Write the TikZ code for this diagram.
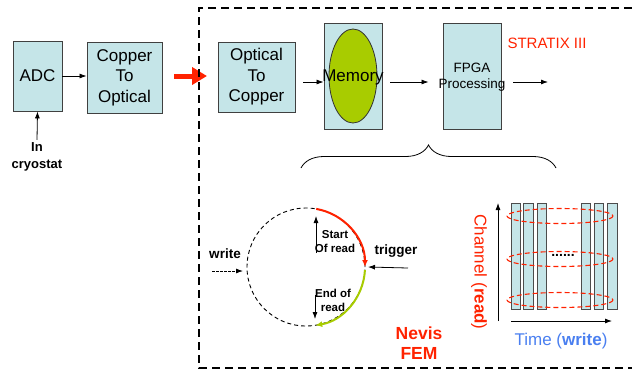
\documentclass[tikz,border=0pt]{standalone}
\usepackage{fontspec}
\setmainfont{Liberation Sans}
\usepackage{xcolor}
\usetikzlibrary{arrows.meta,positioning,calc,decorations.pathreplacing}
\definecolor{boxcyan}{HTML}{C5E5E8}
\definecolor{memgreen}{HTML}{A8CC00}
\definecolor{femred}{HTML}{FF2200}
\definecolor{timeblue}{HTML}{4A7FF0}

\begin{document}
\begin{tikzpicture}[x=1pt, y=-1pt,
  blk/.style={draw=black!75, fill=boxcyan, line width=0.9pt, align=center, inner sep=0pt, font=\fontsize{17}{20.5}\selectfont},
  arr/.style={-{Latex[length=7pt,width=5pt]}, line width=0.8pt},
  lbl/.style={font=\fontsize{11.5}{14}\selectfont\bfseries, align=center, inner sep=0pt}]
\useasboundingbox (0,0) rectangle (632,373);
% front end outside the FEM
\node[blk, minimum width=49pt, minimum height=70pt] (adc) at (37.5,76) {ADC};
\node[blk, minimum width=75pt, minimum height=71pt] (c2o) at (124.5,77.5) {Copper\\To\\Optical};
\draw[arr] (adc.east) -- (c2o.west |- adc.east);
\node[lbl, font=\fontsize{13}{17}\selectfont\bfseries] (cryo) at (37,156.5) {In\\cryostat};
\draw[arr] ([yshift=2pt]cryo.north) -- (adc.south);
% big red arrow into the FEM
\coordinate (redin) at (174,76);
\coordinate (redout) at (207,76);
\draw[femred, line width=5pt, -{Triangle[length=15pt,width=17pt]}] (redin) -- (redout);
% FEM boundary (open to the right)
\draw[line width=2.2pt, dash pattern=on 8pt off 5pt] (632,8) -- (199,8) -- (199,368) -- (632,368);
% FEM chain
\node[blk, minimum width=77pt, minimum height=70pt] (o2c) at (256.5,77) {Optical\\To\\Copper};
\node[blk, minimum width=58pt, minimum height=106pt] (mem) at (353,76) {};
\draw[black!80, fill=memgreen, line width=0.8pt] (mem.center) ellipse [x radius=24, y radius=47];
\node[font=\fontsize{17}{20}\selectfont, inner sep=0pt] (memlbl) at (353,77) {Memory};
\node[blk, minimum width=58pt, minimum height=106pt] (fpga) at (472,76) {};
\node[font=\fontsize{13.5}{16}\selectfont, align=center, inner sep=0pt] (fpgalbl) at (472,77) {FPGA\\Processing};
\node[femred, font=\fontsize{15}{18}\selectfont, inner sep=0pt] (stratix) at (547,43) {STRATIX III};
\draw[arr] ([xshift=8pt,yshift=-5pt]o2c.east) -- ([yshift=-6pt]mem.west);
\draw[arr] ([xshift=8pt,yshift=-6pt]mem.east) -- ([xshift=-14pt,yshift=-6pt]fpga.west);
\coordinate (fpgaout) at (548,82);
\draw[arr] ([xshift=12pt,yshift=-6pt]fpga.east) -- (fpgaout);
% brace over the detail views
\draw[line width=0.8pt, decorate, decoration={brace, amplitude=23pt}] (301,168) -- (556,168);
% circular buffer
\node[circle, draw, dash pattern=on 4pt off 3pt, line width=0.9pt, minimum size=118pt, inner sep=0pt, outer sep=0pt] (buf) at (306,267) {};
\draw[femred, line width=2pt, -{Latex[length=7pt,width=6pt]}] (buf.80) arc[start angle=-80, end angle=0, radius=59];
\draw[memgreen, line width=2pt, -{Latex[length=7pt,width=6pt]}] (buf.-3) arc[start angle=3, end angle=81, radius=59];
\node[lbl] (startrd) at (335,242) {Start\\Of read};
\node[lbl] (endrd) at (333,300.5) {End of\\read};
\coordinate (sr0) at (316,253);
\coordinate (sr1) at (316,216);
\draw[arr] (sr0) -- (sr1);
\coordinate (er0) at (315,295);
\coordinate (er1) at (315,319);
\draw[arr] (er0) -- (er1);
\node[lbl, font=\fontsize{13.5}{16}\selectfont\bfseries] (trig) at (396,251) {trigger};
\coordinate (trigin) at (408,268);
\draw[arr] (trigin) -- ([xshift=3pt]buf.east);
\node[lbl, font=\fontsize{13.5}{16}\selectfont\bfseries] (wr) at (225,254) {write};
\coordinate (wrin) at (212,271);
\draw[arr, dash pattern=on 2.5pt off 1.5pt] (wrin) -- ([xshift=-4pt,yshift=-4pt]buf.west);
\node[femred, lbl, font=\fontsize{17.5}{20}\selectfont\bfseries] (nevis) at (419,343) {Nevis\\FEM};
% channel x time memory map
\foreach \x in {511,523.5,537,581,594,607.5} {
  \draw[fill=boxcyan, draw=black!70, line width=0.8pt] (\x,203) rectangle ++(9.5,106);
}
\foreach \y in {216,259,300} {
  \draw[femred, line width=1.1pt, dash pattern=on 5pt off 3pt] (560,\y) ellipse [x radius=53, y radius=7.5];
}
\node[font=\fontsize{14}{14}\selectfont\bfseries, inner sep=0pt] (dots) at (563,255) {......};
\coordinate (org) at (498,321);
\coordinate (chtop) at (498,203);
\coordinate (tstart) at (511,321);
\coordinate (tend) at (612,321);
\draw[arr] (org) -- (chtop);
\draw[arr] (tstart) -- (tend);
\node[femred, rotate=-90, font=\fontsize{17}{20}\selectfont, inner sep=0pt] (chan) at (479,272) {Channel (\textbf{read})};
\node[timeblue, font=\fontsize{17}{20}\selectfont, inner sep=0pt] (time) at (561,341) {Time (\textbf{write})};
\end{tikzpicture}
\end{document}
